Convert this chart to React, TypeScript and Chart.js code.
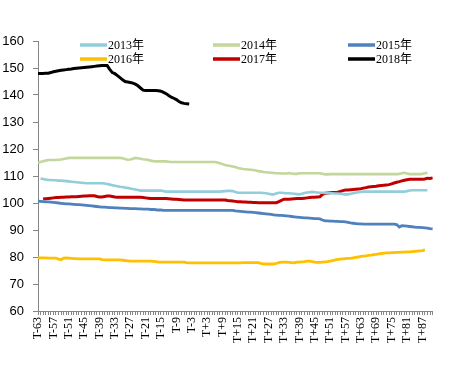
import React, { useEffect, useRef } from 'react';
import { Chart, registerables } from 'chart.js';

Chart.register(...registerables);

const CATEGORIES: string[] = [
  'T-63','T-62','T-61','T-60','T-59','T-58','T-57','T-56','T-55','T-54',
  'T-53','T-52','T-51','T-50','T-49','T-48','T-47','T-46','T-45','T-44',
  'T-43','T-42','T-41','T-40','T-39','T-38','T-37','T-36','T-35','T-34',
  'T-33','T-32','T-31','T-30','T-29','T-28','T-27','T-26','T-25','T-24',
  'T-23','T-22','T-21','T-20','T-19','T-18','T-17','T-16','T-15','T-14',
  'T-13','T-12','T-11','T-10','T-9','T-8','T-7','T-6','T-5','T-4',
  'T-3','T-2','T-1','T','T+1','T+2','T+3','T+4','T+5','T+6',
  'T+7','T+8','T+9','T+10','T+11','T+12','T+13','T+14','T+15','T+16',
  'T+17','T+18','T+19','T+20','T+21','T+22','T+23','T+24','T+25','T+26',
  'T+27','T+28','T+29','T+30','T+31','T+32','T+33','T+34','T+35','T+36',
  'T+37','T+38','T+39','T+40','T+41','T+42','T+43','T+44','T+45','T+46',
  'T+47','T+48','T+49','T+50','T+51','T+52','T+53','T+54','T+55','T+56',
  'T+57','T+58','T+59','T+60','T+61','T+62','T+63','T+64','T+65','T+66',
  'T+67','T+68','T+69','T+70','T+71','T+72','T+73','T+74','T+75','T+76',
  'T+77','T+78','T+79','T+80','T+81','T+82','T+83','T+84','T+85','T+86',
  'T+87','T+88','T+89','T+90','T+91'
];

const TICK_LABELS: string[] = [
  'T-63','T-57','T-51','T-45','T-39','T-33','T-27','T-21','T-15','T-9','T-3',
  'T+3','T+9','T+15','T+21','T+27','T+33','T+39','T+45','T+51','T+57','T+63',
  'T+69','T+75','T+81','T+87'
];

const Y_TICKS: number[] = [60, 70, 80, 90, 100, 110, 120, 130, 140, 150, 160];

const SERIES_NAMES: string[] = ['2013年', '2014年', '2015年', '2016年', '2017年', '2018年'];

const S2013: (number | null)[] = [
  null, 109.1, 108.9, 108.7, 108.5, 108.5, 108.4, 108.4, 108.3, 108.3,
  108.2, 108.1, 108.0, 107.9, 107.8, 107.7, 107.6, 107.5, 107.4, 107.3,
  107.3, 107.3, 107.3, 107.3, 107.3, 107.3, 107.2, 107.0, 106.8, 106.6,
  106.4, 106.2, 106.0, 105.9, 105.7, 105.6, 105.4, 105.2, 105.0, 104.8,
  104.6, 104.6, 104.6, 104.6, 104.6, 104.6, 104.6, 104.6, 104.6, 104.4,
  104.2, 104.2, 104.2, 104.2, 104.2, 104.2, 104.2, 104.2, 104.2, 104.2,
  104.2, 104.2, 104.2, 104.2, 104.2, 104.2, 104.2, 104.2, 104.2, 104.2,
  104.2, 104.2, 104.3, 104.4, 104.5, 104.5, 104.4, 104.1, 103.8, 103.8,
  103.8, 103.8, 103.8, 103.8, 103.8, 103.8, 103.8, 103.8, 103.7, 103.6,
  103.4, 103.2, 103.2, 103.5, 103.8, 103.8, 103.7, 103.6, 103.6, 103.5,
  103.4, 103.3, 103.2, 103.4, 103.7, 103.9, 104.0, 104.1, 104.0, 103.9,
  103.8, 103.8, 103.7, 103.7, 103.6, 103.6, 103.5, 103.5, 103.4, 103.3,
  103.2, 103.2, 103.4, 103.6, 103.8, 104.0, 104.1, 104.2, 104.2, 104.2,
  104.2, 104.2, 104.2, 104.2, 104.2, 104.2, 104.2, 104.2, 104.2, 104.2,
  104.2, 104.2, 104.2, 104.2, 104.4, 104.6, 104.7, 104.7, 104.7, 104.7,
  104.7, 104.7, 104.7, null, null
];

const S2014: (number | null)[] = [
  114.9, 115.2, 115.5, 115.7, 115.9, 115.9, 115.9, 115.9, 116.0, 116.1,
  116.3, 116.5, 116.7, 116.7, 116.7, 116.7, 116.7, 116.7, 116.7, 116.7,
  116.7, 116.7, 116.7, 116.7, 116.7, 116.7, 116.7, 116.7, 116.7, 116.7,
  116.7, 116.7, 116.7, 116.6, 116.3, 116.0, 116.1, 116.4, 116.7, 116.6,
  116.4, 116.2, 116.1, 115.9, 115.7, 115.5, 115.4, 115.4, 115.4, 115.4,
  115.4, 115.3, 115.2, 115.2, 115.2, 115.2, 115.2, 115.2, 115.2, 115.2,
  115.2, 115.2, 115.2, 115.2, 115.2, 115.2, 115.2, 115.2, 115.2, 115.2,
  115.0, 114.7, 114.4, 114.1, 113.9, 113.7, 113.5, 113.3, 113.0, 112.8,
  112.6, 112.5, 112.4, 112.3, 112.2, 112.0, 111.8, 111.7, 111.5, 111.4,
  111.3, 111.2, 111.1, 111.0, 111.0, 110.9, 110.9, 110.9, 111.1, 110.9,
  110.8, 110.8, 111.0, 111.0, 111.0, 111.0, 111.0, 111.0, 111.0, 111.0,
  111.0, 110.8, 110.6, 110.6, 110.7, 110.7, 110.7, 110.7, 110.7, 110.7,
  110.7, 110.7, 110.7, 110.7, 110.7, 110.7, 110.7, 110.7, 110.7, 110.7,
  110.7, 110.7, 110.7, 110.7, 110.7, 110.7, 110.7, 110.7, 110.7, 110.7,
  110.7, 110.8, 111.0, 111.2, 110.9, 110.7, 110.7, 110.7, 110.7, 110.7,
  110.8, 111.0, 111.2, null, null
];

const S2015: (number | null)[] = [
  100.7, 100.6, 100.5, 100.4, 100.4, 100.3, 100.2, 100.1, 100.0, 99.9,
  99.8, 99.7, 99.7, 99.6, 99.5, 99.4, 99.4, 99.3, 99.2, 99.1,
  99.0, 98.9, 98.8, 98.7, 98.6, 98.5, 98.5, 98.4, 98.3, 98.3,
  98.2, 98.2, 98.1, 98.1, 98.0, 98.0, 97.9, 97.9, 97.9, 97.8,
  97.8, 97.7, 97.7, 97.7, 97.6, 97.6, 97.5, 97.4, 97.4, 97.3,
  97.3, 97.3, 97.3, 97.3, 97.3, 97.3, 97.3, 97.3, 97.3, 97.3,
  97.3, 97.3, 97.3, 97.3, 97.3, 97.3, 97.3, 97.3, 97.3, 97.3,
  97.3, 97.3, 97.3, 97.3, 97.3, 97.3, 97.3, 97.1, 97.0, 96.9,
  96.8, 96.7, 96.6, 96.6, 96.5, 96.4, 96.3, 96.2, 96.1, 96.0,
  95.9, 95.8, 95.6, 95.5, 95.4, 95.4, 95.3, 95.2, 95.1, 95.0,
  94.9, 94.8, 94.7, 94.6, 94.5, 94.5, 94.4, 94.3, 94.2, 94.2,
  94.1, 93.7, 93.4, 93.4, 93.3, 93.3, 93.2, 93.2, 93.1, 93.1,
  93.0, 92.8, 92.6, 92.5, 92.4, 92.3, 92.3, 92.2, 92.2, 92.2,
  92.2, 92.2, 92.2, 92.2, 92.2, 92.2, 92.2, 92.2, 92.2, 92.2,
  92.0, 91.1, 91.6, 91.5, 91.4, 91.3, 91.2, 91.1, 91.0, 91.0,
  90.9, 90.8, 90.7, 90.5, 90.4
];

const S2016: (number | null)[] = [
  79.7, 79.7, 79.7, 79.7, 79.6, 79.6, 79.6, 79.6, 79.2, 79.0,
  79.6, 79.7, 79.6, 79.5, 79.4, 79.4, 79.3, 79.3, 79.3, 79.3,
  79.3, 79.3, 79.3, 79.3, 79.3, 79.0, 78.9, 78.9, 78.9, 78.9,
  78.9, 78.9, 78.9, 78.8, 78.7, 78.6, 78.5, 78.5, 78.5, 78.5,
  78.5, 78.5, 78.5, 78.5, 78.5, 78.4, 78.3, 78.1, 78.1, 78.1,
  78.1, 78.1, 78.1, 78.1, 78.1, 78.1, 78.1, 78.1, 77.9, 77.8,
  77.8, 77.8, 77.8, 77.8, 77.8, 77.8, 77.8, 77.8, 77.8, 77.8,
  77.8, 77.8, 77.8, 77.8, 77.8, 77.8, 77.8, 77.8, 77.8, 77.8,
  77.9, 77.9, 77.9, 77.9, 77.9, 77.9, 77.9, 77.6, 77.4, 77.4,
  77.4, 77.4, 77.4, 77.6, 77.9, 78.1, 78.1, 78.1, 78.0, 77.9,
  77.8, 78.1, 78.1, 78.2, 78.3, 78.5, 78.5, 78.3, 78.1, 78.0,
  78.0, 78.1, 78.2, 78.3, 78.5, 78.7, 78.9, 79.1, 79.2, 79.3,
  79.4, 79.5, 79.5, 79.7, 79.9, 80.0, 80.2, 80.3, 80.4, 80.6,
  80.7, 80.9, 81.0, 81.2, 81.3, 81.4, 81.5, 81.5, 81.6, 81.6,
  81.7, 81.7, 81.8, 81.8, 81.9, 81.9, 82.0, 82.1, 82.2, 82.3,
  82.4, 82.6, null, null, null
];

const S2017: (number | null)[] = [
  null, null, 101.5, 101.6, 101.7, 101.8, 101.9, 102.0, 102.0, 102.1,
  102.1, 102.2, 102.2, 102.3, 102.3, 102.3, 102.4, 102.5, 102.6, 102.6,
  102.7, 102.7, 102.7, 102.4, 102.2, 102.2, 102.4, 102.6, 102.6, 102.4,
  102.2, 102.1, 102.1, 102.1, 102.1, 102.1, 102.1, 102.1, 102.1, 102.1,
  102.1, 102.0, 101.9, 101.8, 101.7, 101.7, 101.7, 101.7, 101.7, 101.7,
  101.7, 101.6, 101.5, 101.4, 101.4, 101.3, 101.2, 101.1, 101.1, 101.1,
  101.1, 101.1, 101.1, 101.1, 101.1, 101.1, 101.1, 101.1, 101.1, 101.1,
  101.1, 101.1, 101.1, 101.1, 100.9, 100.8, 100.7, 100.6, 100.5, 100.5,
  100.4, 100.4, 100.3, 100.3, 100.2, 100.2, 100.1, 100.1, 100.1, 100.1,
  100.1, 100.1, 100.1, 100.1, 100.5, 101.0, 101.4, 101.4, 101.4, 101.5,
  101.6, 101.7, 101.7, 101.7, 101.8, 101.9, 102.0, 102.1, 102.1, 102.2,
  102.3, 103.2, 103.6, 103.7, 103.8, 103.9, 103.9, 104.0, 104.3, 104.6,
  104.8, 104.8, 104.9, 105.0, 105.1, 105.2, 105.3, 105.5, 105.7, 105.9,
  106.0, 106.1, 106.2, 106.4, 106.5, 106.6, 106.7, 106.8, 107.1, 107.4,
  107.7, 107.9, 108.2, 108.4, 108.6, 108.8, 108.8, 108.8, 108.8, 108.8,
  108.8, 108.9, 109.2, 109.1, 109.3
];

const S2018: (number | null)[] = [
  148.0, 148.0, 148.0, 148.1, 148.1, 148.3, 148.6, 148.8, 149.0, 149.2,
  149.3, 149.4, 149.5, 149.6, 149.8, 149.9, 150.0, 150.1, 150.2, 150.3,
  150.4, 150.5, 150.6, 150.7, 150.8, 150.9, 150.9, 150.9, 149.5, 148.3,
  147.9, 147.2, 146.4, 145.6, 145.0, 144.8, 144.6, 144.4, 144.0, 143.4,
  142.6, 141.8, 141.7, 141.7, 141.7, 141.7, 141.7, 141.6, 141.4, 141.0,
  140.5, 139.8, 139.2, 138.8, 138.3, 137.6, 137.1, 136.9, 136.8, 136.7
];

const SERIES_DATA = [S2013, S2014, S2015, S2016, S2017, S2018];
const SERIES_COLORS: string[] = ['#92CDDC', '#C3D69B', '#4F81BD', '#FFC000', '#C00000', '#000000'];
const SERIES_WIDTHS: number[] = [2.6, 2.6, 2.8, 2.8, 3, 3];

const LEGEND_X: number[] = [80, 213, 348];
const LEGEND_Y: number[] = [45, 59];

const legendPlugin = {
  id: 'gridLegend',
  afterDraw(chart: any) {
    const ctx = chart.ctx;
    ctx.save();
    ctx.font = '12px "Liberation Serif", "Noto Sans CJK SC", serif';
    ctx.textBaseline = 'middle';
    ctx.textAlign = 'left';
    chart.data.datasets.forEach((ds: any, k: number) => {
      const x = LEGEND_X[k % 3];
      const y = LEGEND_Y[Math.floor(k / 3)];
      ctx.strokeStyle = ds.borderColor;
      ctx.lineWidth = 3.5;
      ctx.beginPath();
      ctx.moveTo(x, y);
      ctx.lineTo(x + 27, y);
      ctx.stroke();
      ctx.fillStyle = '#000';
      ctx.fillText(ds.label, x + 28, y + 1);
    });
    ctx.restore();
  },
};

export default function App() {
  const canvasRef = useRef<HTMLCanvasElement | null>(null);

  useEffect(() => {
    if (!canvasRef.current) return;
    const chart = new Chart(canvasRef.current, {
      type: 'line',
      data: {
        labels: CATEGORIES,
        datasets: SERIES_NAMES.map((name, k) => ({
          label: name,
          data: SERIES_DATA[k],
          borderColor: SERIES_COLORS[k],
          backgroundColor: SERIES_COLORS[k],
          borderWidth: SERIES_WIDTHS[k],
          pointRadius: 0,
          tension: 0,
          fill: false,
          spanGaps: false,
        })),
      },
      options: {
        animation: false,
        responsive: false,
        maintainAspectRatio: false,
        layout: { padding: { top: 41, right: 8, bottom: 0, left: 0 } },
        plugins: {
          legend: { display: false },
          tooltip: { enabled: false },
        },
        scales: {
          x: {
            type: 'category',
            offset: false,
            afterFit: (scale: any) => { scale.height = 67; },
            grid: {
              display: true,
              drawOnChartArea: false,
              drawTicks: true,
              tickLength: 4,
              color: '#868686',
            },
            border: { display: true, color: '#868686', width: 1 },
            ticks: {
              autoSkip: false,
              minRotation: 90,
              maxRotation: 90,
              padding: 2,
              color: '#000',
              font: { family: '"Liberation Serif", serif', size: 12 },
              callback: (_v: any, i: number) => (TICK_LABELS.includes(CATEGORIES[i]) ? CATEGORIES[i] : ''),
            },
          },
          y: {
            min: 60,
            max: 160,
            afterFit: (scale: any) => { scale.width = 38; },
            afterBuildTicks: (scale: any) => { scale.ticks = Y_TICKS.map((v) => ({ value: v })); },
            grid: {
              display: true,
              drawOnChartArea: false,
              drawTicks: true,
              tickLength: 5,
              color: '#868686',
            },
            border: { display: true, color: '#868686', width: 1 },
            ticks: {
              padding: 9,
              color: '#000',
              font: { family: '"Liberation Sans", Arial, sans-serif', size: 13 },
            },
          },
        },
      },
      plugins: [legendPlugin],
    });
    return () => chart.destroy();
  }, []);

  return (
    <div style={{ position: 'fixed', left: 0, top: 0, width: 449, height: 378, background: '#fff' }}>
      <canvas ref={canvasRef} width={449} height={378} style={{ width: 449, height: 378, display: 'block' }} />
    </div>
  );
}
